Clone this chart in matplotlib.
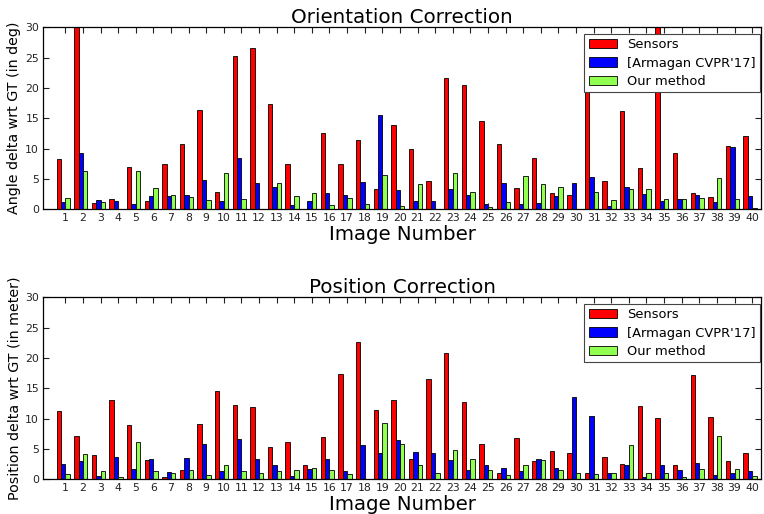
import numpy as np
import matplotlib
matplotlib.use("Agg")
import matplotlib.pyplot as plt

images = list(range(1, 41))
series_names = ["Sensors", "[Armagan CVPR'17]", "Our method"]

orient_sensors = [8.2, 32.0, 1.0, 1.6, 7.0, 1.3, 7.4, 10.7, 16.4, 2.9,
                  25.2, 26.5, 17.4, 7.5, 0.1, 12.6, 7.5, 11.4, 3.3, 13.8,
                  10.0, 4.7, 21.7, 20.5, 14.6, 10.7, 3.5, 8.4, 2.7, 2.3,
                  25.0, 4.7, 16.2, 6.8, 32.0, 9.3, 2.6, 2.0, 10.4, 12.1]
orient_armagan = [1.15, 9.3, 1.5, 1.3, 0.8, 2.1, 2.2, 2.4, 4.8, 1.4,
                  8.4, 4.3, 3.7, 0.7, 1.4, 2.7, 2.4, 4.5, 15.6, 3.2,
                  1.3, 1.4, 3.4, 2.3, 0.9, 4.3, 0.8, 1.0, 2.1, 4.3,
                  5.3, 0.6, 3.7, 2.5, 1.4, 1.6, 2.4, 1.2, 10.3, 2.1]
orient_ours = [1.8, 6.3, 1.2, 0.1, 6.3, 3.5, 2.3, 2.0, 1.5, 5.9,
               1.6, 0.1, 4.3, 2.1, 2.6, 0.7, 1.8, 0.9, 5.7, 0.5,
               4.1, 0.1, 6.0, 2.8, 0.4, 1.2, 5.5, 4.1, 3.7, 0.1,
               2.9, 1.5, 3.3, 3.4, 1.6, 1.7, 1.9, 5.1, 1.6, 0.2]

pos_sensors = [11.3, 7.2, 4.0, 13.1, 8.9, 3.2, 0.3, 1.5, 9.2, 14.6,
               12.2, 12.0, 5.4, 6.2, 2.3, 6.9, 17.4, 22.7, 11.4, 13.0,
               3.3, 16.5, 20.9, 12.7, 5.9, 1.0, 6.8, 3.0, 4.7, 4.4,
               1.0, 3.7, 2.5, 12.1, 10.1, 2.3, 17.2, 10.3, 3.0, 4.3]
pos_armagan = [2.6, 3.0, 0.5, 3.7, 1.7, 3.4, 1.2, 3.5, 5.9, 1.4,
               6.6, 3.4, 2.3, 0.5, 1.7, 3.4, 1.4, 5.6, 4.3, 6.4,
               4.5, 4.3, 3.2, 1.6, 2.3, 1.8, 1.3, 3.4, 1.9, 13.5,
               10.5, 1.0, 2.3, 0.4, 2.3, 1.5, 2.7, 0.7, 1.1, 1.3]
pos_ours = [0.9, 4.1, 1.3, 0.3, 6.2, 1.3, 1.0, 1.5, 0.7, 2.3,
            1.4, 1.0, 1.3, 1.5, 1.9, 1.5, 0.9, 0.1, 9.3, 5.8,
            2.3, 1.0, 4.9, 3.3, 1.6, 0.7, 2.4, 3.2, 1.5, 1.0,
            0.9, 1.0, 5.6, 1.0, 1.0, 0.4, 1.7, 7.2, 1.7, 0.5]

colors = ["#ff0000", "#0000ff", "#90ff50"]
W = 0.25

fig = plt.figure(figsize=(7.64, 5.14), dpi=100)
ax1 = fig.add_axes([0.0567, 0.593, 0.9393, 0.354])
ax2 = fig.add_axes([0.0567, 0.0675, 0.9393, 0.354])

def draw(ax, data, title, ylabel):
    x = np.array(images, dtype=float)
    for k, (vals, c, name) in enumerate(zip(data, colors, series_names)):
        ax.bar(x + (k - 2) * W, vals, width=W, align="edge", color=c,
               edgecolor="black", linewidth=0.6, label=name)
    ax.set_xlim(-0.25, 40.5)
    ax.set_ylim(0, 30)
    ax.set_xticks(images)
    ax.set_xticklabels([str(i) for i in images])
    ax.set_yticks(range(0, 31, 5))
    ax.tick_params(direction="in", top=True, right=True, length=4,
                   labelsize=7.8, colors="#222222", labelcolor="#222222",
                   pad=3)
    ax.set_title(title, fontsize=14.3, pad=3)
    ax.set_ylabel(ylabel, fontsize=10.3, labelpad=3)
    ax.set_xlabel("Image Number", fontsize=14.2, labelpad=1)
    leg = ax.legend(loc="upper right", bbox_to_anchor=(0.9986, 0.963),
                    borderaxespad=0, fontsize=9.4, fancybox=False,
                    framealpha=1, edgecolor="#444444", borderpad=0.32,
                    handlelength=2.15, handleheight=0.75, handletextpad=0.8,
                    labelspacing=0.42)
    leg.get_frame().set_linewidth(0.8)
    for s in ax.spines.values():
        s.set_linewidth(0.9)

draw(ax1, [orient_sensors, orient_armagan, orient_ours],
     "Orientation Correction", "Angle delta wrt GT (in deg)")
draw(ax2, [pos_sensors, pos_armagan, pos_ours],
     "Position Correction", "Position delta wrt GT (in meter)")

fig.savefig("out.png", dpi=100)
